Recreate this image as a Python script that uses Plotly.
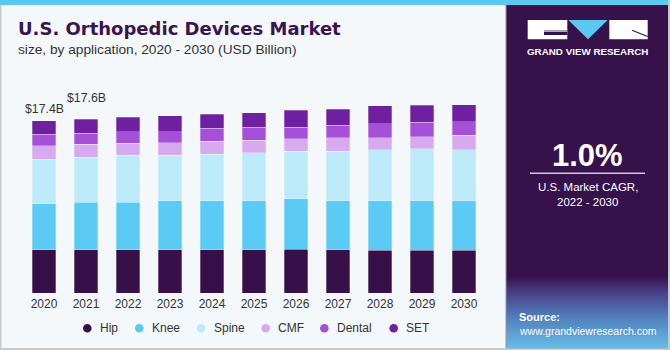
import plotly.graph_objects as go

# ---------------- data ----------------
years = ["2020", "2021", "2022", "2023", "2024", "2025", "2026", "2027", "2028", "2029", "2030"]
hip = [4.37, 4.37, 4.37, 4.37, 4.37, 4.37, 4.44, 4.37, 4.31, 4.31, 4.31]
knee = [4.64, 4.78, 4.78, 4.95, 4.95, 4.95, 5.08, 4.95, 5.02, 5.02, 5.02]
spine = [4.51, 4.58, 4.75, 4.61, 4.68, 4.85, 4.82, 5.02, 5.12, 5.25, 5.15]
cmf = [1.34, 1.28, 1.24, 1.24, 1.34, 1.28, 1.24, 1.34, 1.25, 1.21, 1.45]
dental = [1.18, 1.14, 1.14, 1.11, 1.28, 1.31, 1.18, 1.25, 1.38, 1.48, 1.35]
set_ = [1.34, 1.38, 1.48, 1.62, 1.45, 1.45, 1.69, 1.65, 1.82, 1.72, 1.72]

series_names = ["Hip", "Knee", "Spine", "CMF", "Dental", "SET"]
series_values = [hip, knee, spine, cmf, dental, set_]
series_colors = ["#371049", "#5BCAF5", "#BDEAF9", "#D7A9EE", "#A64FD8", "#6E20A0"]

label_years = ["2020", "2021"]
label_texts = ["&#36;17.4B", "&#36;17.6B"]

# ---------------- layout helpers ----------------
W, H = 670, 350
ML, MR, MT, MB = 23, 185, 93, 57
PW, PH = W - ML - MR, H - MT - MB
FONT = "Liberation Sans, Arial, sans-serif"


def X(px):
    return (px - ML) / PW


def Y(py):
    return (H - MB - py) / PH


fig = go.Figure()
for name, vals, col in zip(series_names, series_values, series_colors):
    fig.add_trace(go.Bar(
        x=years, y=vals, name=name, marker_color=col,
        marker_line=dict(color="rgba(255,255,255,0.35)", width=0.8),
        showlegend=False,
    ))

totals = [sum(v) for v in zip(*series_values)]
shapes = []
annotations = []

# value labels
for yr, txtv, ysh in zip(label_years, label_texts, [2.5, 12]):
    i = years.index(yr)
    annotations.append(dict(x=i, y=totals[i], xref="x", yref="y", text=txtv,
                            showarrow=False, yanchor="bottom", yshift=ysh,
                            font=dict(family=FONT, size=12.3, color="#333333")))

# frame: top stripe and grey borders
shapes.append(dict(type="rect", xref="paper", yref="paper", x0=X(0), x1=X(670), y0=Y(0), y1=Y(5),
                   fillcolor="#5BC8F0", line_width=0, layer="above"))
shapes.append(dict(type="rect", xref="paper", yref="paper", x0=X(0), x1=X(1.5), y0=Y(5), y1=Y(350),
                   fillcolor="#C9C9C9", line_width=0, layer="above"))
shapes.append(dict(type="rect", xref="paper", yref="paper", x0=X(0), x1=X(670), y0=Y(348), y1=Y(350),
                   fillcolor="#C9C9C9", line_width=0, layer="above"))

# right panel
PX0, PX1 = 506, 668
shapes.append(dict(type="rect", xref="paper", yref="paper", x0=X(PX0), x1=X(PX1), y0=Y(5), y1=Y(348),
                   fillcolor="#37114A", line_width=0, layer="above"))
stops = [(276, (55, 17, 74)), (292, (72, 62, 134)), (318, (82, 128, 190)), (348, (104, 188, 232))]
n = 36
for k in range(n):
    y0 = stops[0][0] + (stops[-1][0] - stops[0][0]) * k / n
    y1 = stops[0][0] + (stops[-1][0] - stops[0][0]) * (k + 1) / n
    ym = (y0 + y1) / 2
    for (a, ca), (b, cb) in zip(stops[:-1], stops[1:]):
        if a <= ym <= b:
            t = (ym - a) / (b - a)
            c = tuple(int(round(ca[j] + (cb[j] - ca[j]) * t)) for j in range(3))
            break
    shapes.append(dict(type="rect", xref="paper", yref="paper", x0=X(PX0), x1=X(PX1), y0=Y(y0), y1=Y(y1 + 0.5),
                       fillcolor="rgb(%d,%d,%d)" % c, line_width=0, layer="above"))
shapes.append(dict(type="rect", xref="paper", yref="paper", x0=X(668), x1=X(670), y0=Y(0), y1=Y(350),
                   fillcolor="#C9C9C9", line_width=0, layer="above"))
shapes.append(dict(type="line", xref="paper", yref="paper", x0=X(PX0), x1=X(PX0), y0=Y(5), y1=Y(348),
                   line=dict(color="#9C8FA6", width=1), layer="above"))

# logo
shapes.append(dict(type="rect", xref="paper", yref="paper", x0=X(527.7), x1=X(567.3), y0=Y(20), y1=Y(39.3),
                   fillcolor="white", line_width=0, layer="above"))
shapes.append(dict(type="rect", xref="paper", yref="paper", x0=X(544), x1=X(567.3), y0=Y(30.5), y1=Y(35),
                   fillcolor="#37114A", line_width=0, layer="above"))
shapes.append(dict(type="line", xref="paper", yref="paper", x0=X(544), x1=X(567.3), y0=Y(31.3), y1=Y(31.3),
                   line=dict(color="white", width=0.8), layer="above"))
shapes.append(dict(type="path", xref="paper", yref="paper",
                   path="M %f,%f L %f,%f L %f,%f Z" % (X(568.3), Y(20), X(607.7), Y(20), X(588), Y(39.3)),
                   fillcolor="#5BC8F0", line_width=0, layer="above"))
shapes.append(dict(type="rect", xref="paper", yref="paper", x0=X(609.3), x1=X(647.7), y0=Y(20), y1=Y(39.3),
                   fillcolor="white", line_width=0, layer="above"))
shapes.append(dict(type="line", xref="paper", yref="paper", x0=X(632), x1=X(647.7), y0=Y(30.3), y1=Y(36.5),
                   line=dict(color="#37114A", width=1.2), layer="above"))
shapes.append(dict(type="line", xref="paper", yref="paper", x0=X(530), x1=X(645), y0=Y(173.3), y1=Y(173.3),
                   line=dict(color="#D0C8D8", width=1.5), layer="above"))


def txt(x, y, text, size, color="white", anchor="center", bold=False, family=FONT):
    annotations.append(dict(xref="paper", yref="paper", x=X(x), y=Y(y), xanchor=anchor, yanchor="middle",
                            text=("<b>%s</b>" % text) if bold else text, showarrow=False,
                            font=dict(family=family, size=size, color=color)))


# titles
txt(16, 28.5, "U.S. Orthopedic Devices Market", 18, "#3A1450", "left", True, "DejaVu Sans, sans-serif")
txt(16, 49, "size, by application, 2020 - 2030 (USD Billion)", 13.7, "#333333", "left")

# panel texts
txt(587.7, 51.7, "GRAND VIEW RESEARCH", 9.8, "white", "center", True)
txt(587.5, 155, "1.0%", 31, "white", "center", True)
txt(587.7, 186.7, "U.S. Market CAGR,", 11.5, "white")
txt(587.7, 201.7, "2022 - 2030", 11.5, "white")
txt(517, 316.5, "Source:", 11, "white", "left", True)
txt(517, 330.5, "www.grandviewresearch.com", 10.5, "white", "left")

# custom legend
legend_marker_x = [87.3, 139.3, 201, 265.7, 324.3, 393.7]
LEG_Y = 328.3
for name, col, mx in zip(series_names, series_colors, legend_marker_x):
    shapes.append(dict(type="circle", xref="paper", yref="paper", xsizemode="pixel", ysizemode="pixel",
                       xanchor=X(mx), yanchor=Y(LEG_Y), x0=-4.3, x1=4.3, y0=-4.3, y1=4.3,
                       fillcolor=col, line_width=0, layer="above"))
    txt(mx + 10.5, LEG_Y, name, 12, "#333333", "left")

fig.update_layout(
    width=W, height=H,
    margin=dict(l=ML, r=MR, t=MT, b=MB, pad=0),
    paper_bgcolor="#F4F8FB", plot_bgcolor="rgba(0,0,0,0)",
    barmode="stack", bargap=0.43,
    showlegend=False,
    font=dict(family=FONT, size=12, color="#333333"),
    xaxis=dict(type="category", range=[-0.5, 10.5], showgrid=False, zeroline=False, showline=False,
               ticks="", ticklabelstandoff=2, tickfont=dict(family=FONT, size=12, color="#333333")),
    yaxis=dict(range=[0, PH / 9.9], visible=False, showgrid=False, zeroline=False),
    shapes=shapes, annotations=annotations,
)

fig.write_html("out.html")
